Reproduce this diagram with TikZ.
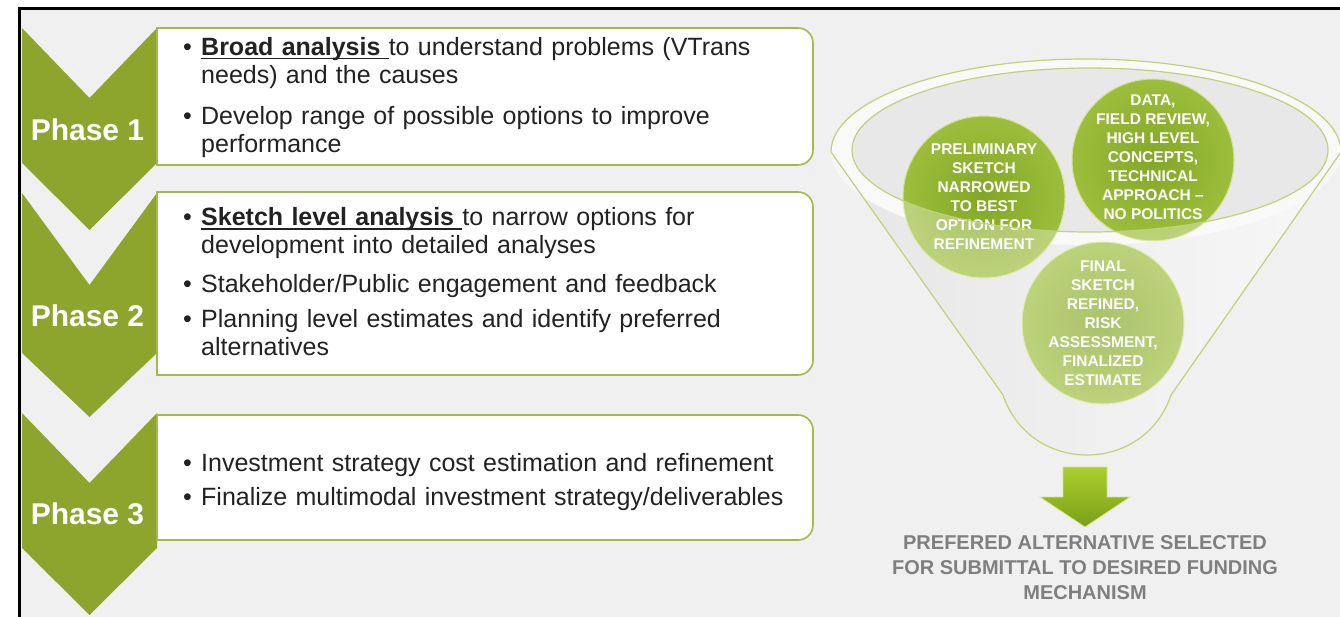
\documentclass[tikz,border=0pt]{standalone}
\usepackage{fontspec}
\setmainfont{Liberation Sans}
\usetikzlibrary{positioning}
\definecolor{bggrey}{HTML}{F0F0F0}
\definecolor{chevgreen}{HTML}{8DA52C}
\definecolor{boxgreen}{HTML}{A2B94F}
\definecolor{textgrey}{HTML}{222222}
\definecolor{resultgrey}{HTML}{7F7F7F}
\definecolor{rimgreen}{HTML}{BFD27A}
\definecolor{ballin}{HTML}{82A626}
\definecolor{ballout}{HTML}{9DBE3C}
\definecolor{ballrim}{HTML}{D2E394}
\definecolor{arrowtop}{HTML}{ABCF2E}
\definecolor{arrowbot}{HTML}{7C9F17}
\newcommand{\chevron}[4]{\fill[chevfill] (22,-#1) -- (89.5,-#2) -- (157,-#1) -- (157,-#3) -- (89.5,-#4) -- (22,-#3) -- cycle;}
\newcommand{\phasebox}[2]{\draw[boxline] (157,-#1) -- (798,-#1) arc[start angle=90,end angle=0,radius=15] -- (813,{-#2+15}) arc[start angle=0,end angle=-90,radius=15] -- (157,-#2) -- cycle;}
\newcommand{\bitem}[1]{\par\noindent\hangindent=18pt\hangafter=1\makebox[18pt][l]{\textbullet}#1\par}
\newcommand{\uln}[1]{\setbox0\hbox{#1}\rlap{\rule[-4pt]{\wd0}{1.4pt}}\box0}
\newcommand{\funnelpath}{(831,-152) -- (1003,-395) .. controls (1030,-475) and (1144,-475) .. (1171,-395) -- (1341,-152) arc[start angle=0,end angle=180,x radius=255,y radius=93]}
\tikzset{
  chevfill/.style={fill=chevgreen},
  boxline/.style={draw=boxgreen, line width=1.6pt, fill=white},
  frame/.style={draw=black, line width=3pt},
  phase/.style={text=white, inner sep=0pt, font=\bfseries\fontsize{30}{32}\selectfont},
  bullets/.style={anchor=west, inner sep=0pt, text width=625pt, align=left, text=textgrey, font=\fontsize{25}{28}\selectfont},
  ball/.style={circle, minimum size=162pt, inner sep=0pt, draw=ballrim, line width=1pt, inner color=ballin, outer color=ballout},
  balltext/.style={text=white, align=center, inner sep=0pt, font=\bfseries\fontsize{15.5}{19}\selectfont},
  result/.style={text=resultgrey, align=center, inner sep=0pt, font=\bfseries\fontsize{20}{25}\selectfont}
}
\begin{document}
\begin{tikzpicture}[x=1pt,y=1pt]
\useasboundingbox (0,0) rectangle (1340,-617);
\fill[white] (0,0) rectangle (1340,-617);
\fill[bggrey] (19,-8) rectangle (1340,-617);
\draw[frame] (19.5,-617) -- (19.5,-8.5) -- (1340,-8.5);

\chevron{28}{98}{163}{230}
\chevron{193}{285}{353}{417}
\chevron{413}{483}{548}{615}
\phasebox{28}{165}
\phasebox{192}{375}
\phasebox{415}{540}

\node[phase] (ph1) at (87.5,-130) {Phase 1};
\node[phase] (ph2) at (87.5,-316) {Phase 2};
\node[phase] (ph3) at (87.5,-514) {Phase 3};

\node[bullets] (list1) at (183,-92.5) {\bitem{\uln{\textbf{Broad analysis}\ }to understand problems (VTrans\newline needs) and the causes}\vspace{13pt}\bitem{Develop range of possible options to improve\newline performance}};
\node[bullets] (list2) at (183,-277) {\bitem{\uln{\textbf{Sketch level analysis}\ }to narrow options for\newline development into detailed analyses}\vspace{11pt}\bitem{Stakeholder/Public engagement and feedback}\vspace{7pt}\bitem{Planning level estimates and identify preferred\newline alternatives}};
\node[bullets] (list3) at (183,-477) {\bitem{Investment strategy cost estimation and refinement}\vspace{6pt}\bitem{Finalize multimodal investment strategy/deliverables}};

\shade[left color=black!14, right color=black!4] \funnelpath;
\fill[black!3] (1086,-152) ellipse[x radius=255, y radius=93];
\fill[black!9] (1090,-150) ellipse[x radius=238, y radius=82];

\node[ball] (prelim) at (984,-197) {};
\node[ball] (data) at (1153,-160) {};
\node[ball] (final) at (1103,-323) {};
\node[balltext] (prelimtext) at (prelim) {PRELIMINARY\\SKETCH\\NARROWED\\TO BEST\\OPTION FOR\\REFINEMENT};
\node[balltext] (datatext) at (1153,-157) {DATA,\\FIELD REVIEW,\\HIGH LEVEL\\CONCEPTS,\\TECHNICAL\\APPROACH –\\NO POLITICS};
\node[balltext] (finaltext) at (final) {FINAL\\SKETCH\\REFINED,\\RISK\\ASSESSMENT,\\FINALIZED\\ESTIMATE};

\fill[white, fill opacity=0.32, even odd rule] \funnelpath (1090,-150) ellipse[x radius=238, y radius=82];
\draw[rimgreen, line width=1.2pt] \funnelpath;
\draw[rimgreen, line width=1.2pt] (1090,-150) ellipse[x radius=238, y radius=82];

\shade[top color=arrowtop, bottom color=arrowbot, draw=ballrim, line width=0.8pt] (1063,-467) -- (1107,-467) -- (1107,-497) -- (1130,-497) -- (1085,-527) -- (1040,-497) -- (1063,-497) -- cycle;
\node[result] (choice) at (1085,-568) {PREFERED ALTERNATIVE SELECTED\\FOR SUBMITTAL TO DESIRED FUNDING\\MECHANISM};
\end{tikzpicture}
\end{document}
